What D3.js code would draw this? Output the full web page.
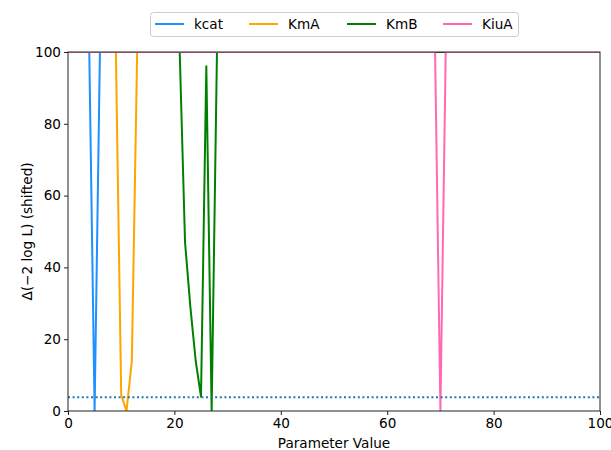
<!DOCTYPE html>
<html>
<head>
<meta charset="utf-8">
<script src="https://cdn.jsdelivr.net/npm/d3@7"></script>
<style>
  body { margin: 0; background: #fff; }
  svg { font-family: "DejaVu Sans", sans-serif; }
</style>
</head>
<body>
<script>
// profile curves (values above 100 are cut at the top)
var kcatX = [0, 4, 5, 6, 100];
var kcatY = [100, 100, 0, 100, 100];
var kmaX = [0, 9, 10, 11, 12, 13, 100];
var kmaY = [100, 100, 4.5, 0, 14, 100, 100];
var kmbX = [0, 21, 22, 23, 24, 25, 26, 27, 28, 100];
var kmbY = [100, 100, 47, 29, 14, 4, 96, 0, 100, 100];
var kiuaX = [0, 69, 70, 71, 100];
var kiuaY = [100, 100, 0, 100, 100];

var names = ["kcat", "KmA", "KmB", "KiuA"];
var colors = ["#1E90FF", "#FFA500", "#008000", "#FF69B4"];
var threshold = 3.84;
var xTicks = [0, 20, 40, 60, 80, 100];
var yTicks = [0, 20, 40, 60, 80, 100];

var width = 611, height = 450;
var margin = { left: 68, right: 11, top: 52, bottom: 39 };
var plotW = width - margin.left - margin.right;
var plotH = height - margin.top - margin.bottom;
var fontSize = "13.6px";

var xScale = d3.scaleLinear().domain([0, 100]).range([0, plotW]);
var yScale = d3.scaleLinear().domain([0, 100]).range([plotH, 0]);

var svg = d3.select("body").append("svg")
    .attr("width", width)
    .attr("height", height);

svg.append("defs").append("clipPath").attr("id", "clip")
  .append("rect").attr("width", plotW).attr("height", plotH);

var g = svg.append("g")
    .attr("transform", "translate(" + margin.left + "," + margin.top + ")");

var series = [
  { xs: kcatX, ys: kcatY },
  { xs: kmaX, ys: kmaY },
  { xs: kmbX, ys: kmbY },
  { xs: kiuaX, ys: kiuaY }
];

var line = d3.line()
    .x(function(d) { return xScale(d[0]); })
    .y(function(d) { return yScale(d[1]); });

var lines = g.append("g").attr("clip-path", "url(#clip)");
series.forEach(function(s, i) {
  var pts = s.xs.map(function(x, k) { return [x, s.ys[k]]; });
  lines.append("path")
    .datum(pts)
    .attr("d", line)
    .style("fill", "none")
    .style("stroke", colors[i])
    .style("stroke-width", 2)
    .style("stroke-linejoin", "round");
});

// threshold line
lines.append("line")
  .attr("x1", 0).attr("x2", plotW)
  .attr("y1", yScale(threshold)).attr("y2", yScale(threshold))
  .style("stroke", "#1f77b4")
  .style("stroke-width", 2)
  .style("stroke-dasharray", "2,2.6");

// axes
var xAxis = g.append("g")
    .attr("transform", "translate(0," + plotH + ")")
    .call(d3.axisBottom(xScale).tickValues(xTicks).tickSize(4).tickPadding(3));
var yAxis = g.append("g")
    .call(d3.axisLeft(yScale).tickValues(yTicks).tickSize(4).tickPadding(3));
[xAxis, yAxis].forEach(function(a) {
  a.select(".domain").remove();
  a.selectAll("line").style("stroke", "#222");
  a.selectAll("text").style("font-size", fontSize).style("fill", "#000")
    .style("font-family", "DejaVu Sans");
});

// frame
g.append("rect")
  .attr("width", plotW).attr("height", plotH)
  .style("fill", "none").style("stroke", "#222").style("stroke-width", 1);

// labels
svg.append("text")
  .attr("x", margin.left + plotW / 2).attr("y", 448)
  .attr("text-anchor", "middle")
  .style("font-size", fontSize)
  .text("Parameter Value");

svg.append("text")
  .attr("transform", "translate(27," + (margin.top + plotH / 2) + ") rotate(-90)")
  .attr("text-anchor", "middle")
  .attr("dy", "0.35em")
  .style("font-size", fontSize)
  .text("\u0394(\u22122 log L) (shifted)");

// legend
var legend = svg.append("g");
legend.append("rect")
  .attr("x", 150.5).attr("y", 12.5).attr("width", 368).attr("height", 24)
  .attr("rx", 3)
  .style("fill", "#fff").style("stroke", "#ccc");
var legX = [155, 249, 347, 443];
names.forEach(function(n, i) {
  legend.append("line")
    .attr("x1", legX[i]).attr("x2", legX[i] + 29)
    .attr("y1", 24).attr("y2", 24)
    .style("stroke", colors[i]).style("stroke-width", 2);
  legend.append("text")
    .attr("x", legX[i] + 39).attr("y", 24)
    .attr("dy", "0.35em")
    .style("font-size", fontSize)
    .text(n);
});
</script>
</body>
</html>
